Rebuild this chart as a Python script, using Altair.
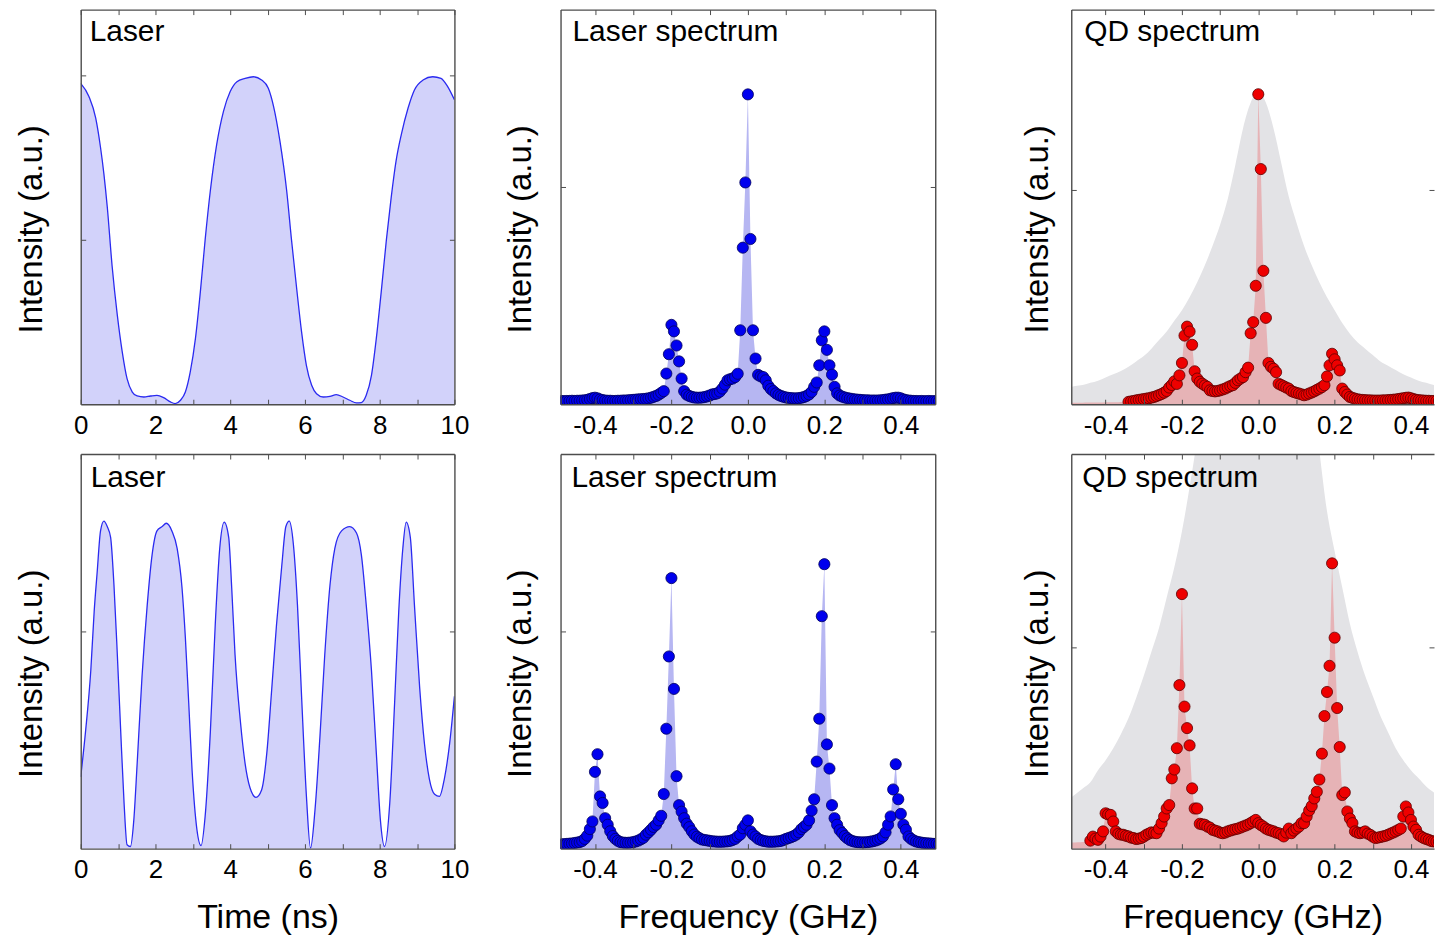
import altair as alt
import pandas as pd

# ---------------- data ----------------
# Laser intensity in time (tick units: 1 = one y tick)
TIME_TOP_T = [0, 0.22, 0.4, 0.53, 0.62, 0.71, 0.84, 0.98, 1.11, 1.24,
              1.38, 1.51, 1.69, 1.87, 2.04, 2.22, 2.4, 2.53, 2.67, 2.8,
              2.93, 3.07, 3.2, 3.33, 3.47, 3.64, 3.82, 4.0, 4.18, 4.4,
              4.62, 4.84, 5.02, 5.16, 5.33, 5.51, 5.64, 5.78, 5.91, 6.04,
              6.18, 6.31, 6.49, 6.67, 6.84, 7.02, 7.2, 7.38, 7.51, 7.64,
              7.78, 7.91, 8.04, 8.18, 8.31, 8.44, 8.58, 8.76, 8.93, 9.16,
              9.42, 9.64, 9.82, 10.0]
TIME_TOP_V = [1.95, 1.87, 1.74, 1.56, 1.40, 1.20, 0.84, 0.54, 0.32, 0.155,
              0.074, 0.05, 0.044, 0.05, 0.054, 0.04, 0.014, 0.004, 0.024, 0.074,
              0.195, 0.40, 0.68, 1.0, 1.30, 1.58, 1.78, 1.90, 1.96, 1.98,
              1.99, 1.97, 1.92, 1.81, 1.60, 1.30, 1.0, 0.70, 0.44, 0.235,
              0.115, 0.064, 0.044, 0.048, 0.058, 0.044, 0.024, 0.008, 0.01, 0.054,
              0.175, 0.40, 0.68, 1.0, 1.26, 1.48, 1.64, 1.80, 1.91, 1.97,
              1.99, 1.98, 1.93, 1.85]
TIME_BOT_T = [0, 0.13, 0.27, 0.36, 0.44, 0.53, 0.62, 0.71, 0.8, 0.89,
              0.98, 1.07, 1.16, 1.24, 1.33, 1.42, 1.51, 1.64, 1.78, 1.91,
              2.04, 2.18, 2.29, 2.44, 2.58, 2.71, 2.8, 2.89, 2.98, 3.11,
              3.22, 3.33, 3.47, 3.6, 3.72, 3.84, 3.96, 4.04, 4.13, 4.27,
              4.4, 4.53, 4.69, 4.84, 4.98, 5.11, 5.24, 5.38, 5.49, 5.58,
              5.69, 5.8, 5.91, 6.04, 6.15, 6.27, 6.4, 6.53, 6.67, 6.8,
              6.98, 7.2, 7.38, 7.51, 7.64, 7.78, 7.91, 8.02, 8.13, 8.27,
              8.4, 8.51, 8.62, 8.71, 8.82, 8.93, 9.07, 9.2, 9.33, 9.47,
              9.6, 9.73, 9.87, 10.0]
TIME_BOT_V = [0.33, 0.54, 0.82, 1.09, 1.27, 1.46, 1.505, 1.48, 1.43, 1.21,
              0.89, 0.54, 0.21, 0.018, 0.01, 0.13, 0.39, 0.79, 1.12, 1.35,
              1.46, 1.48, 1.495, 1.46, 1.38, 1.20, 0.97, 0.67, 0.36, 0.087,
              0.014, 0.15, 0.54, 1.03, 1.38, 1.50, 1.43, 1.20, 0.89, 0.59,
              0.39, 0.28, 0.236, 0.27, 0.44, 0.73, 1.03, 1.30, 1.48, 1.505,
              1.40, 1.12, 0.70, 0.24, 0.003, 0.18, 0.51, 0.89, 1.21, 1.38,
              1.46, 1.48, 1.45, 1.35, 1.12, 0.82, 0.44, 0.13, 0.01, 0.21,
              0.67, 1.09, 1.38, 1.50, 1.43, 1.12, 0.74, 0.48, 0.32, 0.25,
              0.24, 0.32, 0.48, 0.70]

# spectra sampled every 1/150 GHz from -0.5 to 0.5 GHz (151 samples)
FREQ = [round(k / 150.0, 6) for k in range(-75, 76)]

LASER_SPEC_TOP = [
    0.014, 0.014, 0.015, 0.014, 0.015, 0.015, 0.016, 0.015, 0.016, 0.016,
    0.017, 0.018, 0.020, 0.024, 0.028, 0.030, 0.027, 0.022, 0.019, 0.017,
    0.016, 0.016, 0.015, 0.015, 0.016, 0.016, 0.017, 0.017, 0.018, 0.019,
    0.020, 0.021, 0.022, 0.023, 0.024, 0.025, 0.027, 0.030, 0.034, 0.038,
    0.044, 0.052, 0.060, 0.141, 0.230, 0.365, 0.335, 0.270, 0.197, 0.118,
    0.060, 0.044, 0.038, 0.034, 0.031, 0.030, 0.030, 0.031, 0.033, 0.036,
    0.040, 0.045, 0.047, 0.050, 0.058, 0.072, 0.090, 0.110, 0.115, 0.118,
    0.125, 0.140, 0.340, 0.720, 1.020, 1.425, 0.760, 0.340, 0.210, 0.135,
    0.128, 0.125, 0.110, 0.085, 0.070, 0.060, 0.050, 0.043, 0.038, 0.034,
    0.031, 0.029, 0.028, 0.027, 0.027, 0.028, 0.030, 0.033, 0.038, 0.045,
    0.057, 0.080, 0.100, 0.179, 0.294, 0.335, 0.250, 0.179, 0.136, 0.080,
    0.050, 0.040, 0.035, 0.031, 0.028, 0.026, 0.024, 0.022, 0.021, 0.020,
    0.019, 0.018, 0.018, 0.017, 0.017, 0.017, 0.017, 0.018, 0.019, 0.021,
    0.022, 0.025, 0.028, 0.030, 0.030, 0.027, 0.022, 0.019, 0.017, 0.016,
    0.015, 0.015, 0.014, 0.015, 0.014, 0.014, 0.015, 0.014, 0.014, 0.014,
    0.014]
LASER_SPEC_BOT = [
    0.018, 0.019, 0.020, 0.021, 0.022, 0.023, 0.024, 0.026, 0.028, 0.030,
    0.035, 0.045, 0.060, 0.090, 0.125, 0.353, 0.434, 0.240, 0.210, 0.140,
    0.110, 0.080, 0.058, 0.045, 0.036, 0.030, 0.028, 0.027, 0.027, 0.028,
    0.030, 0.033, 0.037, 0.043, 0.050, 0.064, 0.075, 0.087, 0.100, 0.110,
    0.130, 0.151, 0.251, 0.551, 0.883, 1.243, 0.734, 0.333, 0.200, 0.170,
    0.140, 0.115, 0.099, 0.080, 0.065, 0.055, 0.048, 0.042, 0.040, 0.038,
    0.036, 0.034, 0.033, 0.032, 0.032, 0.032, 0.033, 0.034, 0.036, 0.040,
    0.045, 0.056, 0.065, 0.094, 0.110, 0.130, 0.080, 0.065, 0.056, 0.045,
    0.040, 0.036, 0.034, 0.032, 0.032, 0.032, 0.033, 0.034, 0.036, 0.040,
    0.045, 0.049, 0.053, 0.058, 0.065, 0.075, 0.090, 0.100, 0.110, 0.130,
    0.175, 0.227, 0.400, 0.597, 1.068, 1.307, 0.479, 0.368, 0.200, 0.140,
    0.110, 0.085, 0.072, 0.058, 0.048, 0.040, 0.035, 0.032, 0.030, 0.029,
    0.029, 0.029, 0.030, 0.032, 0.034, 0.037, 0.041, 0.047, 0.056, 0.075,
    0.110, 0.148, 0.272, 0.388, 0.227, 0.160, 0.110, 0.087, 0.056, 0.045,
    0.038, 0.033, 0.030, 0.028, 0.026, 0.025, 0.024, 0.023, 0.022, 0.022,
    0.021]
QD_SPEC_TOP = [
    0.006, 0.006, 0.007, 0.007, 0.007, 0.007, 0.007, 0.008, 0.008, 0.008,
    0.008, 0.008, 0.008, 0.008, 0.008, 0.009, 0.009, 0.009, 0.009, 0.009,
    0.009, 0.010, 0.010, 0.010, 0.011, 0.013, 0.015, 0.018, 0.020, 0.022,
    0.024, 0.026, 0.028, 0.031, 0.034, 0.038, 0.043, 0.048, 0.054, 0.062,
    0.078, 0.090, 0.107, 0.095, 0.135, 0.193, 0.321, 0.363, 0.340, 0.278,
    0.154, 0.120, 0.105, 0.096, 0.088, 0.081, 0.065, 0.062, 0.060, 0.062,
    0.065, 0.069, 0.073, 0.079, 0.085, 0.089, 0.100, 0.112, 0.120, 0.127,
    0.150, 0.171, 0.332, 0.384, 0.554, 1.450, 1.100, 0.624, 0.404, 0.193,
    0.175, 0.166, 0.150, 0.096, 0.090, 0.084, 0.078, 0.073, 0.062, 0.057,
    0.053, 0.050, 0.046, 0.042, 0.045, 0.050, 0.055, 0.060, 0.067, 0.073,
    0.080, 0.089, 0.130, 0.182, 0.236, 0.210, 0.182, 0.158, 0.073, 0.057,
    0.045, 0.034, 0.030, 0.026, 0.023, 0.021, 0.020, 0.019, 0.018, 0.018,
    0.017, 0.017, 0.017, 0.017, 0.018, 0.018, 0.019, 0.020, 0.021, 0.022,
    0.024, 0.026, 0.028, 0.030, 0.031, 0.028, 0.024, 0.021, 0.019, 0.018,
    0.017, 0.016, 0.016, 0.015, 0.015, 0.015, 0.015, 0.014, 0.014, 0.014,
    0.014]
QD_SPEC_BOT = [
    0.030, 0.030, 0.031, 0.031, 0.032, 0.032, 0.033, 0.034, 0.036, 0.040,
    0.060, 0.050, 0.044, 0.060, 0.086, 0.176, 0.170, 0.168, 0.135, 0.086,
    0.074, 0.070, 0.069, 0.064, 0.061, 0.055, 0.053, 0.048, 0.050, 0.053,
    0.060, 0.069, 0.075, 0.081, 0.079, 0.077, 0.100, 0.127, 0.160, 0.200,
    0.217, 0.350, 0.394, 0.500, 0.814, 1.267, 0.707, 0.600, 0.514, 0.300,
    0.200, 0.200, 0.124, 0.121, 0.119, 0.110, 0.105, 0.094, 0.090, 0.086,
    0.080, 0.077, 0.080, 0.086, 0.090, 0.094, 0.097, 0.100, 0.105, 0.110,
    0.115, 0.120, 0.127, 0.135, 0.143, 0.127, 0.118, 0.110, 0.100, 0.094,
    0.090, 0.086, 0.080, 0.077, 0.070, 0.061, 0.080, 0.100, 0.077, 0.090,
    0.100, 0.110, 0.127, 0.127, 0.160, 0.190, 0.212, 0.250, 0.283, 0.344,
    0.473, 0.660, 0.780, 0.910, 1.420, 1.050, 0.700, 0.506, 0.267, 0.280,
    0.185, 0.150, 0.127, 0.086, 0.080, 0.077, 0.080, 0.086, 0.075, 0.069,
    0.060, 0.053, 0.055, 0.058, 0.061, 0.064, 0.069, 0.075, 0.080, 0.086,
    0.093, 0.100, 0.160, 0.210, 0.180, 0.143, 0.110, 0.094, 0.069, 0.060,
    0.053, 0.048, 0.044, 0.038, 0.036, 0.035, 0.034, 0.033, 0.033, 0.032,
    0.032]
QD_POINTS_FROM_TOP = -0.34
QD_POINTS_FROM_BOT = -0.44

# broad QD line (grey background), sampled every 0.02 GHz
BG_FREQ = [round(-0.5 + 0.02 * i, 4) for i in range(51)]
QD_BG_TOP = [0.075, 0.085, 0.09, 0.10, 0.11, 0.125, 0.14, 0.155, 0.175, 0.20,
             0.225, 0.26, 0.30, 0.34, 0.39, 0.44, 0.50, 0.57, 0.65, 0.74,
             0.84, 0.96, 1.12, 1.29, 1.41, 1.46, 1.41, 1.29, 1.13, 0.97,
             0.85, 0.74, 0.65, 0.57, 0.50, 0.44, 0.38, 0.33, 0.29, 0.26,
             0.23, 0.20, 0.18, 0.16, 0.14, 0.125, 0.11, 0.10, 0.09, 0.085,
             0.08]
QD_BG_BOT = [0.24, 0.27, 0.30, 0.33, 0.39, 0.44, 0.50, 0.57, 0.65, 0.75,
             0.86, 0.98, 1.10, 1.25, 1.40, 1.58, 1.80, 2.05, 2.40, 2.80,
             3.20, 3.70, 4.20, 4.70, 5.00, 5.10, 5.00, 4.60, 4.10, 3.60,
             3.10, 2.70, 2.30, 1.98, 1.68, 1.48, 1.30, 1.12, 0.98, 0.86,
             0.76, 0.66, 0.58, 0.50, 0.44, 0.39, 0.35, 0.31, 0.28, 0.25,
             0.23]

TIME_TICKS = [0, 1, 2, 3, 4, 5, 6, 7, 8, 9, 10]
TIME_LABELS = [0, 2, 4, 6, 8, 10]
FREQ_TICKS = [-0.4, -0.3, -0.2, -0.1, 0.0, 0.1, 0.2, 0.3, 0.4]
FREQ_LABELS = [-0.4, -0.2, 0.0, 0.2, 0.4]

# ---------------- styling ----------------
FONT = "Liberation Sans"
FRAME = "#4d4d4d"
TIME_FILL = "#d2d2fa"
TIME_LINE = "#2a2af0"
SPEC_FILL = "#b6b6f2"
BLUE = "#0000ee"
BLUE_EDGE = "#00005c"
GREY_BG = "#e3e3e6"
RED_FILL = "#e6b3b6"
RED = "#ee0000"
RED_EDGE = "#5c0000"
H = 396
FREQ_EXPR = "datum.value < 0 ? '-' + format(-datum.value, '.1f') : format(datum.value, '.1f')"
TIME_EXPR = "format(datum.value, 'd')"


def xq(field, dom, axis):
    return alt.X(f"{field}:Q", scale=alt.Scale(domain=dom, nice=False, zero=False), axis=axis)


def yq(field, dom, axis):
    return alt.Y(f"{field}:Q", scale=alt.Scale(domain=dom, nice=False, zero=False),
                 axis=axis, stack=False)


def main_x_axis(values, expr, title):
    kw = dict(orient="bottom", values=values, labelExpr=expr, ticks=False, domain=True,
              domainColor=FRAME, domainWidth=1.4, labelPadding=8, labelFontSize=26,
              labelFont=FONT, labelColor="#000000", grid=False, zindex=1,
              labelFlush=False, labelOverlap=False)
    if title:
        kw.update(title=title, titleFontSize=34, titleFont=FONT, titleFontWeight="normal",
                  titlePadding=18, titleColor="#000000")
    else:
        kw["title"] = None
    return alt.Axis(**kw)


def main_y_axis(values, tp):
    return alt.Axis(orient="left", values=values, labels=False, ticks=False, domain=True,
                    domainColor=FRAME, domainWidth=1.4, grid=False, zindex=1,
                    title="Intensity (a.u.)", titleFontSize=33, titleFont=FONT,
                    titleFontWeight="normal", titlePadding=tp, titleColor="#000000",
                    titleY=H / 2 + 22)


def tick_axis(orient, offset, values, domain):
    return alt.Axis(orient=orient, offset=offset, values=values, labels=False, ticks=True,
                    tickSize=5, tickColor=FRAME, tickWidth=1, domain=domain,
                    domainColor=FRAME, domainWidth=1.4, grid=False, zindex=1, title=None)


def spacer_axis(tp):
    # keeps the gap between the 2nd and 3rd columns as in the reference
    return alt.Axis(orient="right", labels=False, ticks=False, domain=False, grid=False,
                    title="Intensity (a.u.)", titleFontSize=32, titleFont=FONT,
                    titleColor="#ffffff", titlePadding=tp)


def label_layer(text, lx, ly):
    return alt.Chart(pd.DataFrame({"label": [text]})).mark_text(
        align="left", baseline="alphabetic", font=FONT, fontSize=30, color="#000000"
    ).encode(text="label:N", x=alt.value(lx), y=alt.value(ly))


def time_panel(t, v, ydom, yticks, xtitle, label, lx, ly, tp):
    W = 375
    xdom = [0, 10]
    df = pd.DataFrame({"t": t, "v": v})
    area = alt.Chart(df).mark_area(color=TIME_FILL, interpolate="monotone", clip=True).encode(
        x=xq("t", xdom, main_x_axis(TIME_LABELS, TIME_EXPR, xtitle)),
        y=yq("v", ydom, main_y_axis(yticks, tp)))
    line = alt.Chart(df).mark_line(color=TIME_LINE, strokeWidth=1.3, interpolate="monotone",
                                   clip=True).encode(
        x=xq("t", xdom, tick_axis("top", -H, TIME_TICKS, False)),
        y=yq("v", ydom, tick_axis("right", -W, yticks, False)))
    ghost = alt.Chart(df).mark_point(opacity=0, size=1, clip=True).encode(
        x=xq("t", xdom, tick_axis("bottom", -H, TIME_TICKS, True)),
        y=yq("v", ydom, tick_axis("left", -W, yticks, True)))
    return alt.layer(area, line, ghost, label_layer(label, lx, ly)).resolve_axis(
        x="independent", y="independent").properties(width=W, height=H)


def spec_panel(vals, ydom, xtitle, label, lx, ly, tp, spacer_tp):
    W = 376
    xdom = [-0.49, 0.49]
    df = pd.DataFrame({"f": FREQ, "v": vals})
    area = alt.Chart(df).mark_area(color=SPEC_FILL, clip=True).encode(
        x=xq("f", xdom, main_x_axis(FREQ_LABELS, FREQ_EXPR, xtitle)),
        y=yq("v", ydom, main_y_axis([1], tp)))
    pts = alt.Chart(df).mark_circle(size=125, color=BLUE, stroke=BLUE_EDGE, strokeWidth=0.8,
                                    opacity=1, clip=True).encode(
        x=xq("f", xdom, tick_axis("top", -H, FREQ_TICKS, False)),
        y=yq("v", ydom, tick_axis("right", -W, [1], False)))
    ghost = alt.Chart(df).mark_point(opacity=0, size=1, clip=True).encode(
        x=xq("f", xdom, tick_axis("bottom", -H, FREQ_TICKS, True)),
        y=yq("v", ydom, tick_axis("left", -W, [1], True)))
    spacer = alt.Chart(df).mark_point(opacity=0, size=1, clip=True).encode(
        x=xq("f", xdom, None),
        y=yq("v", ydom, spacer_axis(spacer_tp)))
    return alt.layer(area, pts, ghost, spacer, label_layer(label, lx, ly)).resolve_axis(
        x="independent", y="independent").properties(width=W, height=H)


def qd_panel(bg, vals, start, ydom, xtitle, label, lx, ly, tp):
    W = 364
    xdom = [-0.49, 0.4604]
    bgdf = pd.DataFrame({"f": BG_FREQ, "v": bg})
    df = pd.DataFrame({"f": FREQ, "v": vals})
    ptdf = df[df["f"] >= start - 1e-9]
    grey = alt.Chart(bgdf).mark_area(color=GREY_BG, interpolate="monotone", clip=True).encode(
        x=xq("f", xdom, main_x_axis(FREQ_LABELS, FREQ_EXPR, xtitle)),
        y=yq("v", ydom, main_y_axis([1], tp)))
    red = alt.Chart(df).mark_area(color=RED_FILL, clip=True).encode(
        x=xq("f", xdom, tick_axis("top", -H, FREQ_TICKS, False)),
        y=yq("v", ydom, tick_axis("right", -W, [1], False)))
    pts = alt.Chart(ptdf).mark_circle(size=125, color=RED, stroke=RED_EDGE, strokeWidth=0.8,
                                      opacity=1, clip=True).encode(
        x=xq("f", xdom, tick_axis("bottom", -H, FREQ_TICKS, True)),
        y=yq("v", ydom, tick_axis("left", -W, [1], False)))
    return alt.layer(grey, red, pts, label_layer(label, lx, ly)).resolve_axis(
        x="independent", y="independent").properties(width=W, height=H)


p1 = time_panel(TIME_TOP_T, TIME_TOP_V, [0, 2.398], [1, 2], None, "Laser", 9, 32, 32)
p2 = spec_panel(LASER_SPEC_TOP, [0, 1.815], None, "Laser spectrum", 12, 32, 23, 18)
p3 = qd_panel(QD_BG_TOP, QD_SPEC_TOP, QD_POINTS_FROM_TOP, [0, 1.846], None,
              "QD spectrum", 13, 32, 17)
p4 = time_panel(TIME_BOT_T, TIME_BOT_V, [0, 1.813], [1], "Time (ns)", "Laser", 10, 33, 32)
p5 = spec_panel(LASER_SPEC_BOT, [0, 1.813], "Frequency (GHz)", "Laser spectrum", 11, 33, 23, 18)
p6 = qd_panel(QD_BG_BOT, QD_SPEC_BOT, QD_POINTS_FROM_BOT, [0, 1.964], "Frequency (GHz)",
              "QD spectrum", 11, 33, 17)

chart = alt.concat(
    p1, p2, p3, p4, p5, p6, columns=3,
    spacing=alt.RowColnumber(row=15, column=35.5), align="each", bounds="full"
).properties(
    padding={"left": 16, "top": 7, "right": 0, "bottom": 0}, background="white"
).configure(font=FONT).configure_view(stroke=None)

chart.save("out.html", embed_options={"renderer": "svg", "actions": False})
